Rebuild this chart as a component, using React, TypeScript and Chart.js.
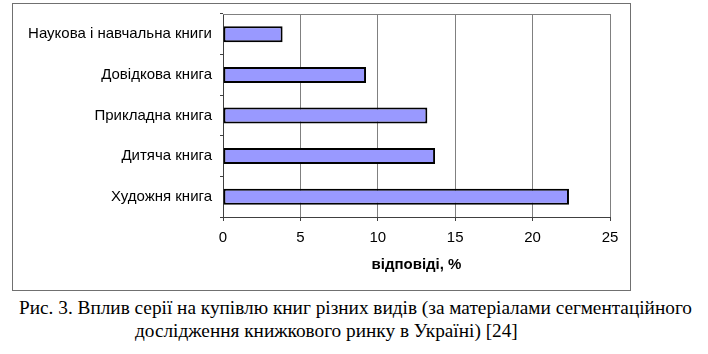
import React, { useEffect, useRef } from "react";
import { Chart, registerables } from "chart.js";

Chart.register(...registerables);

const categories = [
  "Наукова і навчальна книги",
  "Довідкова книга",
  "Прикладна книга",
  "Дитяча книга",
  "Художня книга",
];
const values = [3.85, 9.24, 13.2, 13.7, 22.35];
const xMin = 0;
const xMax = 25;
const xStep = 5;
const xTitle = "відповіді, %";
const captionLines = [
  "Рис. 3. Вплив серії на купівлю книг різних видів (за матеріалами сегментаційного",
  "дослідження книжкового ринку в Україні) [24]",
];

const SANS = "'Liberation Sans', Arial, sans-serif";
const SERIF = "'Liberation Serif', 'Times New Roman', serif";

const plotBorder = {
  id: "plotBorder",
  beforeDatasetsDraw(chart: any) {
    const { ctx, chartArea } = chart;
    ctx.save();
    ctx.strokeStyle = "#808080";
    ctx.lineWidth = 1;
    ctx.beginPath();
    ctx.moveTo(chartArea.left, Math.round(chartArea.top) + 0.5);
    ctx.lineTo(chartArea.right, Math.round(chartArea.top) + 0.5);
    ctx.stroke();
    ctx.restore();
  },
};

export default function App() {
  const ref = useRef<HTMLCanvasElement>(null);

  useEffect(() => {
    if (!ref.current) return;
    const chart = new Chart(ref.current, {
      type: "bar",
      data: {
        labels: categories,
        datasets: [
          {
            data: values,
            backgroundColor: "#9999FF",
            borderColor: "#000000",
            borderWidth: 2,
            borderSkipped: false,
            barPercentage: 0.395,
            categoryPercentage: 1,
          },
        ],
      },
      options: {
        indexAxis: "y",
        responsive: false,
        maintainAspectRatio: false,
        animation: false,
        layout: { padding: { left: 0, right: 20, top: 10, bottom: 0 } },
        plugins: {
          legend: { display: false },
          tooltip: { enabled: false },
        },
        scales: {
          x: {
            min: xMin,
            max: xMax,
            ticks: {
              stepSize: xStep,
              color: "#000",
              font: { family: SANS, size: 15 },
              padding: 8,
            },
            grid: {
              color: "#808080",
              lineWidth: 1,
              drawTicks: true,
              tickLength: 4,
              tickColor: "#404040",
            },
            border: { color: "#404040", width: 1 },
            title: {
              display: true,
              text: xTitle,
              color: "#000",
              font: { family: SANS, size: 15, weight: "bold" },
              padding: { top: 0, bottom: 16 },
            },
            afterFit: (s: any) => {
              s.height = 73;
              s.paddingLeft = 0;
              s.paddingRight = 0;
            },
          },
          y: {
            ticks: {
              color: "#000",
              font: { family: SANS, size: 15 },
              padding: 8,
            },
            grid: {
              drawOnChartArea: false,
              drawTicks: true,
              tickLength: 3,
              color: "#404040",
              offset: true,
            },
            border: { color: "#404040", width: 1 },
            afterFit: (s: any) => {
              s.width = 210;
              s.paddingTop = 0;
              s.paddingBottom = 0;
            },
          },
        },
      },
      plugins: [plotBorder],
    } as any);
    return () => chart.destroy();
  }, []);

  const captionStyle: React.CSSProperties = {
    position: "absolute",
    whiteSpace: "nowrap",
    fontFamily: SERIF,
    fontSize: 19.3,
    lineHeight: "22.5px",
    color: "#000",
  };

  return (
    <div style={{ position: "absolute", left: 0, top: 0, width: 708, height: 354, background: "#fff" }}>
      <div
        style={{
          position: "absolute",
          left: 12,
          top: 3,
          width: 619,
          height: 288,
          border: "1px solid #707070",
          boxSizing: "border-box",
        }}
      >
        <canvas ref={ref} width={617} height={286} style={{ display: "block", width: 617, height: 286 }} />
      </div>
      <div style={{ ...captionStyle, left: 19, top: 297 }}>{captionLines[0]}</div>
      <div style={{ ...captionStyle, left: 135, top: 319.5 }}>{captionLines[1]}</div>
    </div>
  );
}
